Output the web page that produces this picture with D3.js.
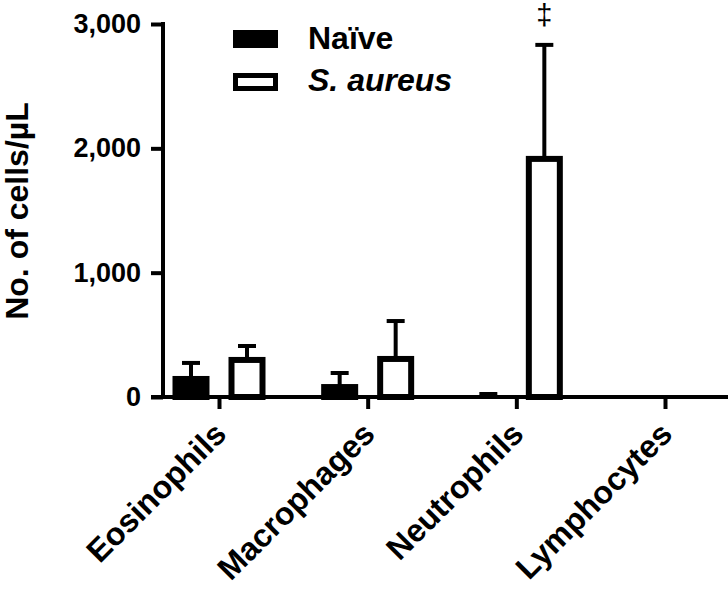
<!DOCTYPE html>
<html>
<head>
<meta charset="utf-8">
<script src="https://cdn.jsdelivr.net/npm/d3@7"></script>
<style>
  html, body { margin: 0; padding: 0; background: #fff; }
  svg { display: block; }
  text { font-family: "Liberation Sans", Arial, sans-serif; fill: #000; }
</style>
</head>
<body>
<svg id="chart" width="728" height="590"></svg>
<script>
// ---- data ----
const categories = ["Eosinophils", "Macrophages", "Neutrophils", "Lymphocytes"];
const seriesNames = ["Naïve", "S. aureus"];
const naiveMean = [145, 80, 0, 0];
const naiveSD = [129, 113, 24, 0];
const aureusMean = [298, 306, 1915, 0];
const aureusSD = [112, 305, 917, 0];
const yTicks = [0, 1000, 2000, 3000];
const annotations = [{ category: "Neutrophils", series: "S. aureus", label: "‡" }];

// ---- layout ----
const svg = d3.select("#chart");
const y = d3.scaleLinear().domain([0, 3000]).range([397, 24]);
const x = d3.scalePoint().domain(categories).range([219, 665]);
const xs = d3.scaleBand().domain(seriesNames).range([-56, 56]).padding(0);
const barW = 31, barStroke = 6, capW = 18, lw = 4;
const axisX = 163;

const rows = [];
categories.forEach((c, i) => {
  rows.push({ cat: c, series: seriesNames[0], mean: naiveMean[i], sd: naiveSD[i], fill: "#000" });
  rows.push({ cat: c, series: seriesNames[1], mean: aureusMean[i], sd: aureusSD[i], fill: "#fff" });
});
const cx = d => x(d.cat) + xs(d.series) + xs.bandwidth() / 2;

// error bars (upper)
const eb = svg.append("g");
rows.forEach(d => {
  const top = y(d.mean + d.sd);
  eb.append("line").attr("x1", cx(d)).attr("x2", cx(d))
    .attr("y1", y(d.mean)).attr("y2", top)
    .attr("stroke", "#000").attr("stroke-width", lw);
  eb.append("line").attr("x1", cx(d) - capW / 2).attr("x2", cx(d) + capW / 2)
    .attr("y1", top).attr("y2", top)
    .attr("stroke", "#000").attr("stroke-width", lw);
});

// bars
svg.append("g").selectAll("rect").data(rows.filter(d => d.mean > 0)).join("rect")
  .attr("x", d => cx(d) - barW / 2)
  .attr("width", barW)
  .attr("y", d => y(d.mean))
  .attr("height", d => y(0) - y(d.mean))
  .attr("fill", d => d.fill)
  .attr("stroke", "#000")
  .attr("stroke-width", barStroke);

// annotations
annotations.forEach(a => {
  const r = rows.find(d => d.cat === a.category && d.series === a.series);
  svg.append("text")
    .attr("x", cx(r)).attr("y", y(r.mean + r.sd) - 20)
    .attr("text-anchor", "middle")
    .attr("font-size", 29)
    .text(a.label);
});

// y axis
const yAxis = d3.axisLeft(y).tickValues(yTicks).tickSize(12).tickPadding(10)
  .tickFormat(d3.format(","));
const gy = svg.append("g").attr("transform", `translate(${axisX},0)`).call(yAxis);
gy.select(".domain").remove();
gy.selectAll(".tick line").attr("stroke", "#000").attr("stroke-width", lw);
gy.selectAll(".tick text").attr("font-size", 27).attr("font-weight", "bold")
  .attr("font-family", "Liberation Sans, Arial, sans-serif").attr("fill", "#000");
svg.append("line").attr("x1", axisX).attr("x2", axisX)
  .attr("y1", y(3000) - 2).attr("y2", y(0) + 2)
  .attr("stroke", "#000").attr("stroke-width", lw);

// x axis
svg.append("line").attr("x1", axisX - 12).attr("x2", 728)
  .attr("y1", y(0)).attr("y2", y(0))
  .attr("stroke", "#000").attr("stroke-width", lw);
const xAxis = d3.axisBottom(x).tickSize(12).tickFormat("");
const gx = svg.append("g").attr("transform", `translate(0,${y(0)})`).call(xAxis);
gx.select(".domain").remove();
gx.selectAll(".tick line").attr("stroke", "#000").attr("stroke-width", lw);
gx.selectAll(".tick text").remove();
svg.append("g").selectAll("text").data(categories).join("text")
  .attr("transform", d => `translate(${x(d) + 9},${436}) rotate(-45)`)
  .attr("text-anchor", "end")
  .attr("font-size", 32).attr("font-weight", "bold")
  .text(d => d);

// y title
svg.append("text")
  .attr("transform", "translate(28,211) rotate(-90)")
  .attr("text-anchor", "middle")
  .attr("font-size", 32).attr("font-weight", "bold")
  .text("No. of cells/µL");

// legend
const lg = svg.append("g");
seriesNames.forEach((s, i) => {
  const fill = i === 0 ? "#000" : "#fff";
  lg.append("rect").attr("x", 235.5).attr("y", 32.5 + i * 43)
    .attr("width", 40).attr("height", 13)
    .attr("fill", fill).attr("stroke", "#000").attr("stroke-width", 5);
  lg.append("text").attr("x", 308).attr("y", 49 + i * 42)
    .attr("font-size", 32).attr("font-weight", "bold")
    .attr("font-style", i === 1 ? "italic" : "normal")
    .text(s);
});
</script>
</body>
</html>
